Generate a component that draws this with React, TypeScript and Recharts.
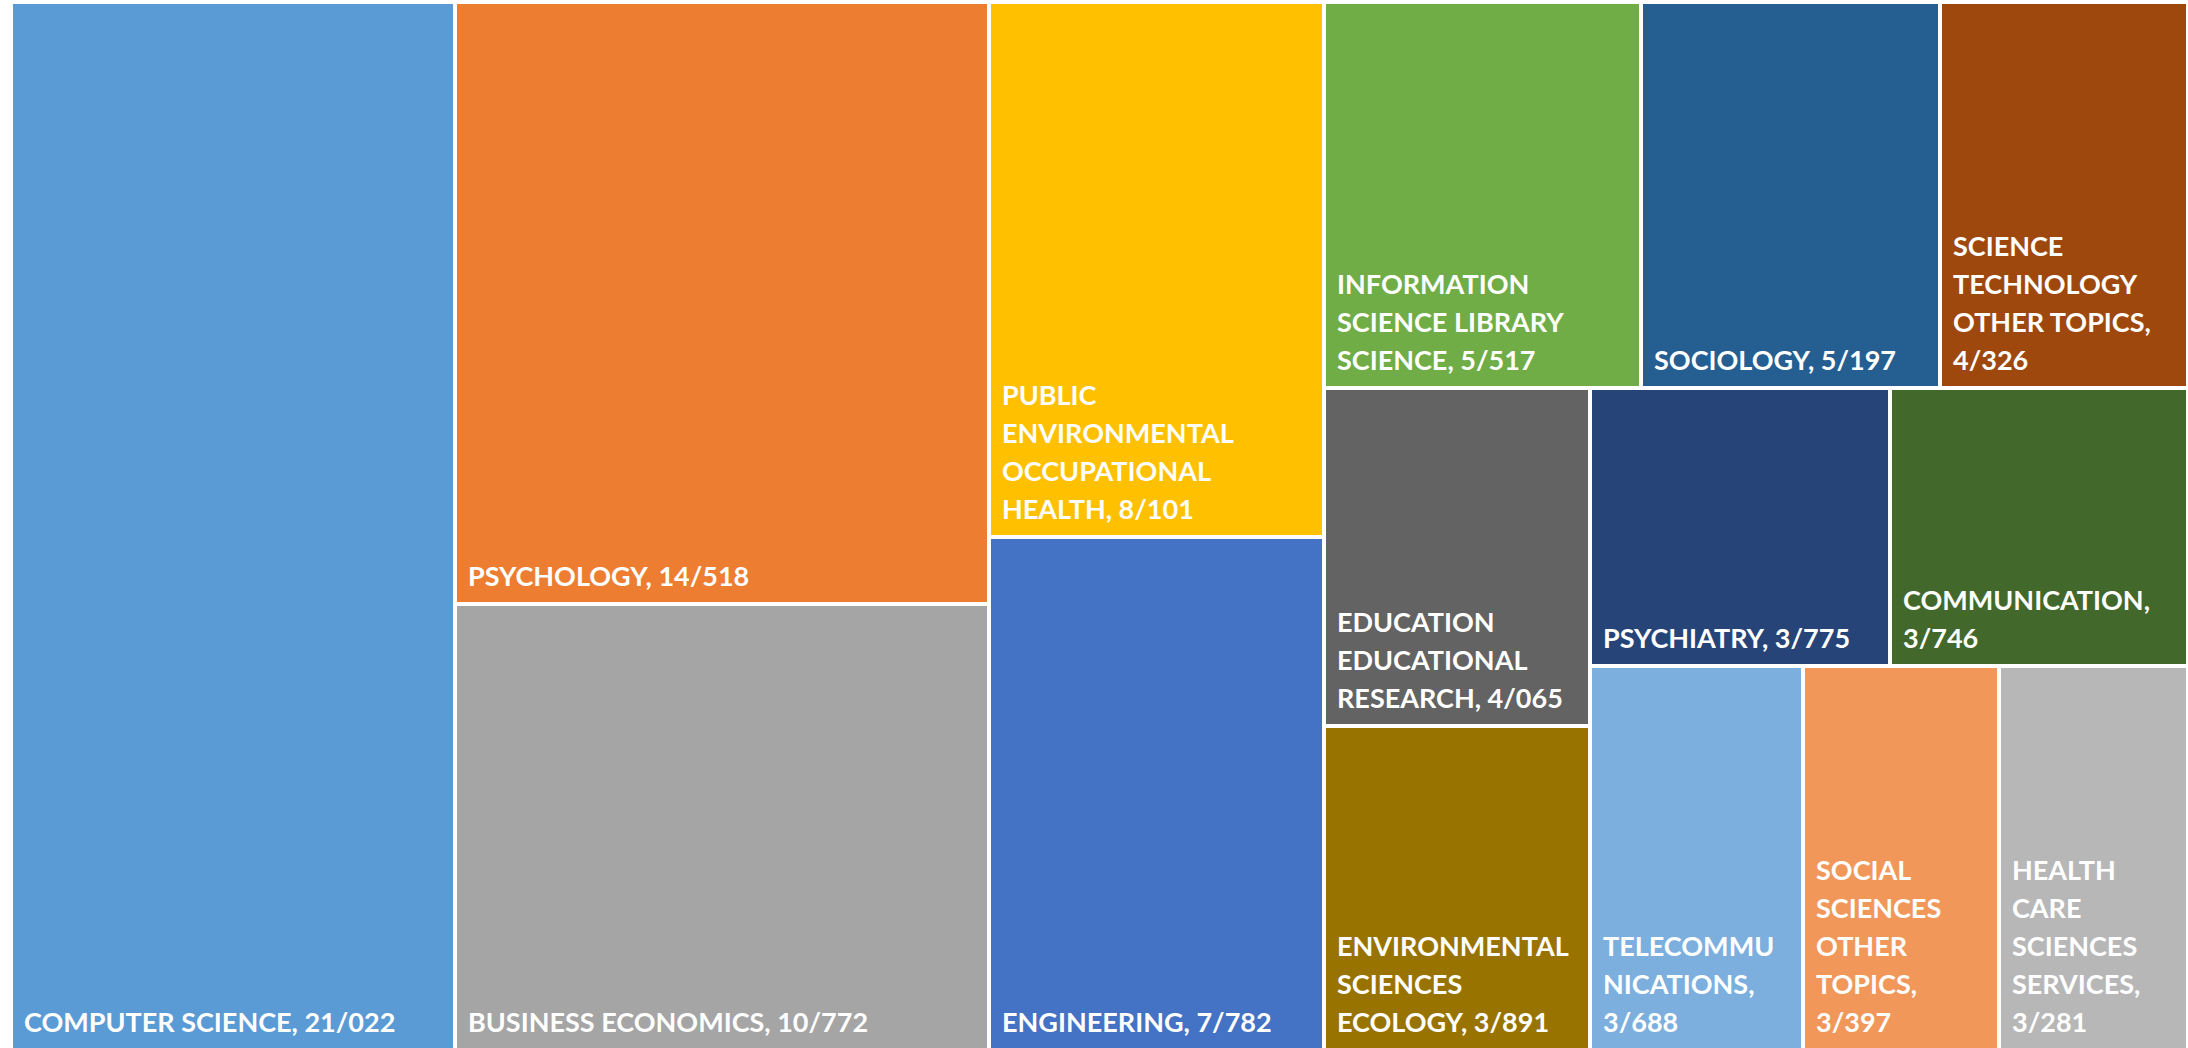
import { Treemap } from "recharts";

// research areas, in the order the treemap shows them (largest first)
const subjects = [
  "COMPUTER SCIENCE",
  "PSYCHOLOGY",
  "BUSINESS ECONOMICS",
  "PUBLIC ENVIRONMENTAL OCCUPATIONAL HEALTH",
  "ENGINEERING",
  "INFORMATION SCIENCE LIBRARY SCIENCE",
  "SOCIOLOGY",
  "SCIENCE TECHNOLOGY OTHER TOPICS",
  "EDUCATION EDUCATIONAL RESEARCH",
  "ENVIRONMENTAL SCIENCES ECOLOGY",
  "PSYCHIATRY",
  "COMMUNICATION",
  "TELECOMMUNICATIONS",
  "SOCIAL SCIENCES OTHER TOPICS",
  "HEALTH CARE SCIENCES SERVICES",
];

const records = [
  21022, 14518, 10772, 8101, 7782, 5517, 5197, 4326, 4065, 3891, 3775, 3746,
  3688, 3397, 3281,
];

const colors = [
  "#5B9BD5", "#ED7D31", "#A5A5A5", "#FFC000", "#4472C4", "#70AD47", "#255E91",
  "#9E480E", "#636363", "#997300", "#264478", "#43682B", "#7CAFDD", "#F1975A",
  "#B7B7B7",
];

// how the tiles are grouped (indexes into the arrays above)
const grouping: any[] = [
  0,
  [[1, 2], [[3, 4], [[5, 6, 7], [[8, 9], [[10, 11], [[12, 13], 14]]]]]],
];

const FONT_SIZE = 27;
const LINE_HEIGHT = 38;
const FONT_FAMILY = "Lato";

let groupCount = 0;
function buildNode(item: any): any {
  if (Array.isArray(item)) {
    groupCount += 1;
    return { name: `group-${groupCount}`, children: item.map(buildNode) };
  }
  return { name: subjects[item], value: records[item], idx: item };
}
const treeData = grouping.map(buildNode);

// "/" is used as thousands separator in the source chart
function formatCount(v: number) {
  const thousands = Math.floor(v / 1000);
  const rest = String(v % 1000).padStart(3, "0");
  return thousands > 0 ? `${thousands}/${rest}` : String(v);
}

let measureCtx: CanvasRenderingContext2D | null = null;
function textWidth(s: string) {
  if (!measureCtx) {
    measureCtx = document.createElement("canvas").getContext("2d");
  }
  if (!measureCtx) return s.length * FONT_SIZE * 0.6;
  measureCtx.font = `700 ${FONT_SIZE}px ${FONT_FAMILY}`;
  return measureCtx.measureText(s).width;
}

function wrapLabel(text: string, maxWidth: number) {
  const lines: string[] = [];
  let line = "";
  for (const word of text.split(" ")) {
    const candidate = line ? `${line} ${word}` : word;
    if (textWidth(candidate) <= maxWidth) {
      line = candidate;
      continue;
    }
    if (line) lines.push(line);
    let rest = word;
    while (rest.length > 1 && textWidth(rest) > maxWidth) {
      let i = 1;
      while (i < rest.length - 1 && textWidth(rest.slice(0, i + 1)) <= maxWidth) i++;
      lines.push(rest.slice(0, i));
      rest = rest.slice(i);
    }
    line = rest;
  }
  if (line) lines.push(line);
  return lines;
}

function TileContent(props: any) {
  const { x, y, width, height, name, value, idx, children } = props;
  if ((children && children.length) || idx === undefined) return null;

  const gap = 2;
  const padLeft = 11;
  const padRight = 13;
  const lines = wrapLabel(
    `${name}, ${formatCount(value)}`,
    width - 2 * gap - padLeft - padRight,
  );
  const lastBaseline = y + height - gap - 16;

  return (
    <g>
      <rect
        x={x + gap}
        y={y + gap}
        width={Math.max(0, width - 2 * gap)}
        height={Math.max(0, height - 2 * gap)}
        fill={colors[idx]}
        stroke="none"
      />
      {lines.map((ln, i) => (
        <text
          key={i}
          x={x + gap + padLeft}
          y={lastBaseline - (lines.length - 1 - i) * LINE_HEIGHT}
          fill="#ffffff"
          fontFamily={FONT_FAMILY}
          fontWeight={700}
          fontSize={FONT_SIZE}
        >
          {ln}
        </text>
      ))}
    </g>
  );
}

export default function App() {
  return (
    <div
      style={{
        position: "absolute",
        left: 0,
        top: 0,
        width: 2188,
        height: 1048,
        overflow: "hidden",
        background: "#ffffff",
      }}
    >
      <div style={{ position: "absolute", left: 11, top: 2 }}>
        <Treemap
          width={2177}
          height={1048}
          data={treeData}
          dataKey="value"
          nameKey="name"
          aspectRatio={0.6}
          isAnimationActive={false}
          content={TileContent as any}
        />
      </div>
    </div>
  );
}
